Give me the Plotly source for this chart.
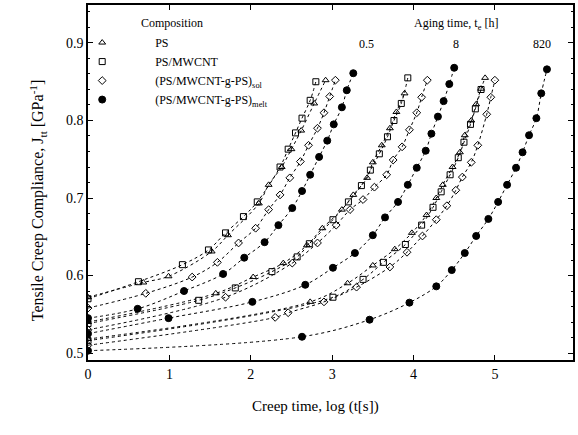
import plotly.graph_objects as go

# ---- data (log t [s], J [1/GPa]) ----
compositions = ["PS", "PS/MWCNT", "(PS/MWCNT-g-PS)<sub>sol</sub>", "(PS/MWCNT-g-PS)<sub>melt</sub>"]
aging_labels = ["0.5", "8", "820"]
aging_label_x = [3.42, 4.52, 5.58]
aging_label_y = [0.899, 0.899, 0.899]

# aging 0.5 h
ps_05_x = [0, 0.68, 0.99, 1.52, 1.72, 2.10, 2.22, 2.38, 2.50, 2.62, 2.78, 2.92]
ps_05_y = [0.572, 0.591, 0.599, 0.631, 0.652, 0.693, 0.717, 0.740, 0.763, 0.787, 0.822, 0.852]
psm_05_x = [0, 0.62, 1.16, 1.48, 1.69, 1.91, 2.08, 2.36, 2.46, 2.55, 2.63, 2.73, 2.80]
psm_05_y = [0.570, 0.592, 0.614, 0.633, 0.655, 0.676, 0.695, 0.740, 0.763, 0.784, 0.803, 0.826, 0.850]
sol_05_x = [0, 0.71, 1.28, 1.59, 1.85, 2.06, 2.22, 2.36, 2.48, 2.61, 2.71, 2.82, 2.90, 2.97, 3.04]
sol_05_y = [0.558, 0.577, 0.598, 0.617, 0.642, 0.661, 0.685, 0.704, 0.726, 0.747, 0.768, 0.790, 0.810, 0.831, 0.852]
melt_05_x = [0, 0.61, 1.18, 1.66, 1.92, 2.17, 2.34, 2.51, 2.63, 2.73, 2.84, 2.94, 3.02, 3.12, 3.18, 3.26]
melt_05_y = [0.545, 0.557, 0.580, 0.602, 0.623, 0.643, 0.665, 0.687, 0.709, 0.730, 0.753, 0.774, 0.795, 0.817, 0.839, 0.861]

# aging 8 h
ps_8_x = [0, 1.57, 2.03, 2.40, 2.69, 2.88, 3.12, 3.26, 3.43, 3.50, 3.61, 3.71, 3.79, 3.89]
ps_8_y = [0.540, 0.577, 0.598, 0.616, 0.639, 0.661, 0.685, 0.704, 0.726, 0.746, 0.768, 0.790, 0.811, 0.835]
psm_8_x = [0, 1.36, 1.81, 2.26, 2.57, 2.72, 3.01, 3.20, 3.36, 3.47, 3.58, 3.68, 3.76, 3.85, 3.93]
psm_8_y = [0.538, 0.568, 0.584, 0.605, 0.624, 0.641, 0.672, 0.695, 0.716, 0.736, 0.757, 0.779, 0.800, 0.822, 0.855]
sol_8_x = [0, 1.69, 2.51, 2.82, 3.05, 3.22, 3.38, 3.52, 3.67, 3.75, 3.86, 3.95, 4.04, 4.10, 4.17]
sol_8_y = [0.530, 0.572, 0.616, 0.642, 0.665, 0.685, 0.698, 0.714, 0.730, 0.749, 0.766, 0.788, 0.810, 0.830, 0.852]
melt_8_x = [0, 0.99, 2.02, 2.67, 3.01, 3.28, 3.50, 3.65, 3.81, 3.93, 4.04, 4.15, 4.22, 4.30, 4.37, 4.44, 4.50]
melt_8_y = [0.525, 0.545, 0.566, 0.588, 0.610, 0.629, 0.652, 0.675, 0.695, 0.717, 0.739, 0.761, 0.783, 0.805, 0.825, 0.847, 0.868]

# aging 820 h
ps_820_x = [0, 2.73, 3.19, 3.50, 3.77, 3.98, 4.16, 4.28, 4.36, 4.48, 4.57, 4.63, 4.71, 4.77, 4.83, 4.88]
ps_820_y = [0.518, 0.566, 0.590, 0.613, 0.634, 0.655, 0.678, 0.700, 0.717, 0.740, 0.759, 0.781, 0.800, 0.821, 0.841, 0.855]
psm_820_x = [0, 3.01, 3.38, 3.63, 3.90, 4.10, 4.24, 4.34, 4.45, 4.55, 4.62, 4.70, 4.76, 4.83]
psm_820_y = [0.516, 0.572, 0.595, 0.617, 0.640, 0.665, 0.688, 0.708, 0.730, 0.752, 0.772, 0.795, 0.815, 0.840]
sol_820_x = [0, 2.30, 2.46, 2.90, 3.30, 3.71, 3.92, 4.11, 4.28, 4.41, 4.52, 4.60, 4.71, 4.79, 4.90, 4.95, 5.00]
sol_820_y = [0.510, 0.546, 0.552, 0.566, 0.585, 0.611, 0.630, 0.651, 0.672, 0.690, 0.710, 0.727, 0.746, 0.768, 0.808, 0.830, 0.852]
melt_820_x = [0, 2.63, 3.46, 3.95, 4.28, 4.47, 4.63, 4.77, 4.92, 5.04, 5.15, 5.26, 5.34, 5.42, 5.51, 5.57, 5.64]
melt_820_y = [0.503, 0.521, 0.543, 0.565, 0.586, 0.607, 0.629, 0.651, 0.673, 0.695, 0.717, 0.739, 0.759, 0.781, 0.803, 0.835, 0.866]

x_ticks = [0, 1, 2, 3, 4, 5, 6]
y_ticks = [0.5, 0.6, 0.7, 0.8, 0.9]

series = [
    [(ps_05_x, ps_05_y), (psm_05_x, psm_05_y), (sol_05_x, sol_05_y), (melt_05_x, melt_05_y)],
    [(ps_8_x, ps_8_y), (psm_8_x, psm_8_y), (sol_8_x, sol_8_y), (melt_8_x, melt_8_y)],
    [(ps_820_x, ps_820_y), (psm_820_x, psm_820_y), (sol_820_x, sol_820_y), (melt_820_x, melt_820_y)],
]

symbols = ["triangle-up-open", "square-open", "diamond-open", "circle"]
sizes = [6, 6, 6, 7]
FONT = "Liberation Serif"

fig = go.Figure()
for g, group in enumerate(series):
    for c, (xs, ys) in enumerate(group):
        fig.add_trace(go.Scatter(
            x=xs, y=ys, mode="lines", showlegend=False, hoverinfo="skip",
            line=dict(color="black", width=1, dash="dot", shape="spline", smoothing=1.0)))
        fig.add_trace(go.Scatter(
            x=xs, y=ys, mode="markers", name=compositions[c],
            legendgroup=compositions[c], showlegend=(g == 0),
            marker=dict(symbol=symbols[c], size=sizes[c], color="black",
                        line=dict(color="black", width=1))))

for lab, lx, ly in zip(aging_labels, aging_label_x, aging_label_y):
    fig.add_annotation(x=lx, y=ly, text=lab, showarrow=False,
                       font=dict(family=FONT, size=12, color="black"))

fig.add_annotation(xref="paper", yref="paper", x=0.85, y=0.975,
                   text="Aging time, t<sub>e</sub> [h]", showarrow=False,
                   font=dict(family=FONT, size=12, color="black"))
fig.add_annotation(xref="paper", yref="paper", x=0.105, y=0.975, xanchor="left",
                   text="Composition", showarrow=False,
                   font=dict(family=FONT, size=12, color="black"))
fig.add_annotation(xref="paper", yref="paper", x=0.47, y=-0.16,
                   text="Creep time, log (t[s])", showarrow=False,
                   font=dict(family=FONT, size=15, color="black"))
fig.add_annotation(xref="paper", yref="paper", x=-0.13, y=0.45, textangle=-90,
                   text="Tensile Creep Compliance, J<sub>tt</sub> [GPa<sup>-1</sup>]",
                   showarrow=False, font=dict(family=FONT, size=16, color="black"))

axis_common = dict(showline=True, linecolor="black", linewidth=1.5, mirror="ticks",
                   ticks="inside", ticklen=5, tickcolor="black", showgrid=False,
                   zeroline=False, tickfont=dict(family=FONT, size=14, color="black"))
fig.update_xaxes(range=[0, 5.96], tickvals=x_ticks, **axis_common)
fig.update_yaxes(range=[0.491, 0.949], tickvals=y_ticks, tickformat=".1f",
                 minor=dict(ticks="inside", ticklen=2, dtick=0.02, tickcolor="black"),
                 **axis_common)

fig.update_layout(
    width=578, height=435,
    margin=dict(l=88, r=3, t=5, b=75),
    plot_bgcolor="white", paper_bgcolor="white",
    font=dict(family=FONT, size=12, color="black"),
    legend=dict(x=-0.08, y=0.935, xanchor="left", yanchor="top",
                bgcolor="rgba(0,0,0,0)", font=dict(family=FONT, size=12),
                itemwidth=96, tracegroupgap=0),
)

fig.write_html("out.html")
